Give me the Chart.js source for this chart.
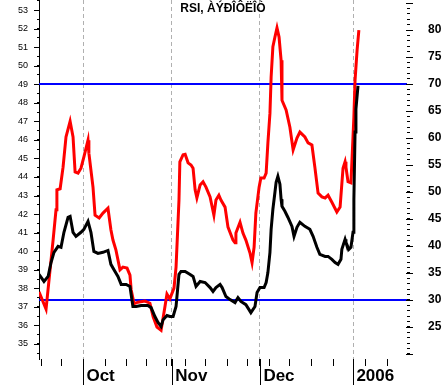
<!DOCTYPE html>
<html lang="ru">
<head>
<meta charset="UTF-8">
<title>RSI</title>
<script src="https://cdn.jsdelivr.net/npm/chart.js"></script>
<style>
    body { margin: 0; background: #ffffff; }
    canvas { display: block; }
</style>
</head>
<body>
<canvas id="rsiChart" width="445" height="385"></canvas>
<script>
// x values are days counted from 1 Sep 2005
var chartTitle = 'RSI, ÀÝÐÎÔËÎÒ';
var monthTicks = [30, 60.3, 90.3, 122];
var monthLabels = ['Oct', 'Nov', 'Dec', '2006'];
var weekTicks = [16, 22.8, 37.5, 44.7, 51.8, 58.6, 64.8, 71.9, 79.1, 86.2, 93.7, 100.5, 108, 115.2, 126.4, 133.6];
var priceLabels = [35, 36, 37, 38, 39, 40, 41, 42, 43, 44, 45, 46, 47, 48, 49, 50, 51, 52, 53];
var rsiLabels = [25, 30, 35, 40, 45, 50, 55, 60, 65, 70, 75, 80];
var rsiLevels = [70, 30];

var rsiDays = [15.0, 17.4, 19.8, 20.8, 21.1, 22.2, 23.2, 24.2, 25.6, 26.6, 27.3, 28.3, 29.3, 30.3, 31.7, 32.0,
    33.4, 34.1, 35.5, 36.8, 38.5, 39.5, 40.2, 41.2, 42.6, 43.6, 45.0, 46.0, 46.4, 47.4, 48.7, 51.1, 52.8, 53.9,
    55.2, 56.6, 57.3, 57.9, 58.6, 59.6, 61.0, 61.7, 62.7, 63.0, 64.1, 64.8, 65.8, 66.8, 67.5, 68.2, 68.8, 69.9,
    70.9, 71.9, 73.3, 74.6, 75.3, 76.3, 77.0, 78.4, 79.4, 81.1, 81.8, 82.1, 83.5, 84.5, 85.5, 86.9, 87.6, 88.3,
    88.9, 90.0, 90.6, 91.7, 92.4, 93.0, 93.7, 94.1, 94.7, 95.4, 96.1, 96.8, 97.5, 97.8, 99.2, 100.5, 101.6,
    102.9, 103.9, 105.6, 106.7, 108.0, 109.0, 110.1, 111.4, 112.5, 113.5, 114.8, 116.5, 117.6, 118.6, 119.3,
    119.6, 120.3, 121.3, 121.7, 122.3, 122.7, 123.4, 124.0];
var rsiValues = [31.5, 28.3, 41.1, 46.7, 50.4, 50.6, 54.6, 60.2, 63.1, 60.2, 53.7, 53.5, 54.4, 56.5, 59.6, 57.2,
    50.9, 45.7, 45.2, 46.1, 47.0, 43.0, 41.1, 39.3, 35.6, 36.1, 35.9, 34.6, 31.9, 29.3, 29.6, 29.8, 29.4, 26.9,
    25.0, 24.4, 26.7, 28.7, 31.1, 30.2, 32.2, 36.1, 48.5, 55.6, 56.9, 57.0, 55.4, 55.0, 54.4, 50.4, 48.9, 51.3,
    51.9, 50.9, 49.1, 45.7, 48.5, 49.4, 48.5, 47.2, 43.5, 41.1, 40.6, 42.4, 44.4, 42.4, 41.1, 38.7, 36.9, 39.8,
    46.1, 50.9, 52.6, 52.6, 53.5, 59.1, 64.6, 71.3, 76.9, 78.7, 80.4, 78.7, 74.4, 67.0, 65.2, 62.0, 57.8,
    60.0, 61.1, 60.2, 59.1, 58.7, 54.6, 49.8, 49.1, 48.9, 49.4, 48.1, 46.3, 47.2, 54.4, 55.6,
    54.6, 51.9, 51.7, 56.5, 63.9, 70.7, 76.3, 80.0];

var priceDays = [15.0, 16.7, 18.1, 19.1, 20.1, 21.5, 22.5, 23.5, 24.9, 25.6, 26.6, 27.6, 29.3, 30.3, 31.7, 32.7,
    33.7, 35.1, 36.8, 38.5, 39.5, 40.9, 41.9, 43.0, 44.7, 46.0, 47.0, 48.1, 49.8, 52.1, 53.2, 54.5, 55.6, 56.6,
    57.3, 58.6, 59.6, 60.7, 61.7, 62.7, 63.4, 64.8, 66.5, 67.5, 68.5, 69.9, 71.6, 73.3, 74.3, 75.3, 76.7, 77.4,
    78.7, 80.1, 81.8, 82.8, 83.8, 85.5, 87.2, 88.6, 89.3, 90.3, 91.7, 92.4, 93.0, 93.7, 94.1, 94.7, 95.4, 95.8,
    96.4, 97.1, 97.5, 97.8, 98.8, 99.8, 101.2, 101.9, 102.9, 103.9, 105.6, 107.3, 108.4, 109.7, 110.7, 112.5,
    113.5, 114.8, 115.9, 116.9, 117.9, 118.2, 119.3, 119.6, 120.6, 121.3, 122.0, 122.3, 122.7, 123.0, 123.7];
var priceValues = [38.75, 38.37, 38.64, 39.39, 39.94, 40.26, 40.21, 41.02, 41.83, 41.88, 41.02, 40.80, 41.02,
    41.18, 41.61, 41.02, 39.99, 39.88, 39.94, 40.04, 39.29, 38.91, 38.64, 38.21, 38.21, 38.10, 37.02, 37.02,
    37.07, 37.07, 36.96, 36.48, 36.15, 35.94, 36.31, 36.53, 36.48, 36.48, 37.02, 38.75, 38.91, 38.91, 38.75,
    38.64, 38.10, 38.37, 38.31, 38.04, 37.83, 38.04, 38.21, 38.04, 37.56, 37.39, 37.23, 37.50, 37.29, 37.12,
    36.69, 37.02, 37.77, 38.04, 38.04, 38.31, 38.85, 39.94, 41.18, 42.26, 43.18, 43.72, 44.04, 43.61, 42.80,
    42.42, 42.15, 41.83, 41.34, 40.80, 41.29, 41.56, 41.34, 41.18, 40.80, 40.21, 39.83, 39.72, 39.72, 39.56,
    39.39, 39.29, 39.56, 40.10, 40.64, 40.48, 40.10, 40.21, 41.02, 42.80, 46.42, 47.66, 48.91];

var xMin = 15, xMax = 140.4;

function toPoints(days, values) {
    return days.map(function(d, i) { return { x: d, y: values[i] }; });
}

function stepTicks(from, to, step) {
    var out = [];
    for (var v = from; v <= to + 1e-9; v += step) out.push({ value: Math.round(v * 10) / 10 });
    return out;
}

// axes keep no extra padding so the plot fills the whole height
function fixSize(width, height) {
    return function(s) {
        if (width != null) s.width = width;
        if (height != null) s.height = height;
        s.paddingTop = 0;
        s.paddingBottom = 0;
        s.paddingLeft = 0;
        s.paddingRight = 0;
    };
}

Chart.defaults.font.family = 'Arial, "Liberation Sans", sans-serif';
Chart.defaults.color = '#000';

// long month marks below the axis, longer major ticks on both y axes, and the title
var extraMarks = {
    id: 'extraMarks',
    afterDraw: function(chart) {
        var ctx = chart.ctx, area = chart.chartArea;
        var sx = chart.scales.x, yL = chart.scales.yL, yR = chart.scales.yR;
        ctx.save();
        ctx.strokeStyle = '#000';
        ctx.lineWidth = 1;
        ctx.beginPath();
        monthTicks.forEach(function(v) {
            var px = Math.round(sx.getPixelForValue(v)) + 0.5;
            ctx.moveTo(px, area.bottom);
            ctx.lineTo(px, chart.height);
        });
        priceLabels.forEach(function(v) {
            var py = Math.round(yL.getPixelForValue(v)) + 0.5;
            ctx.moveTo(area.left - 5, py);
            ctx.lineTo(area.left, py);
        });
        for (var v = 20; v <= 85; v += 5) {
            var py = Math.round(yR.getPixelForValue(v)) + 0.5;
            ctx.moveTo(area.right - 1, py);
            ctx.lineTo(area.right + 6, py);
        }
        ctx.stroke();
        ctx.font = 'bold 12px Arial, "Liberation Sans", sans-serif';
        ctx.fillStyle = '#000';
        ctx.textAlign = 'center';
        ctx.textBaseline = 'middle';
        ctx.fillText(chartTitle, (area.left + area.right) / 2, 9);
        ctx.restore();
    }
};

var datasets = rsiLevels.map(function(level) {
    return {
        label: 'RSI ' + level,
        data: [{ x: xMin, y: level }, { x: xMax, y: level }],
        yAxisID: 'yR',
        borderColor: '#0000ff',
        borderWidth: 2,
        pointRadius: 0,
        order: 3
    };
});
datasets.push({
    label: 'RSI',
    data: toPoints(rsiDays, rsiValues),
    yAxisID: 'yR',
    borderColor: '#ff0000',
    borderWidth: 3,
    pointRadius: 0,
    tension: 0,
    order: 2
});
datasets.push({
    label: 'Price',
    data: toPoints(priceDays, priceValues),
    yAxisID: 'yL',
    borderColor: '#000000',
    borderWidth: 3,
    pointRadius: 0,
    tension: 0,
    order: 1
});

new Chart(document.getElementById('rsiChart'), {
    type: 'line',
    data: { datasets: datasets },
    options: {
        responsive: false,
        animation: false,
        layout: { padding: 0, autoPadding: false },
        plugins: { legend: { display: false }, tooltip: { enabled: false } },
        scales: {
            x: {
                type: 'linear',
                min: xMin,
                max: xMax,
                afterBuildTicks: function(s) {
                    s.ticks = monthTicks.concat(weekTicks).sort(function(a, b) { return a - b; })
                        .map(function(v) { return { value: v }; });
                },
                afterFit: fixSize(null, 26),
                ticks: {
                    autoSkip: false,
                    maxRotation: 0,
                    align: 'start',
                    padding: 0,
                    color: '#000',
                    font: { size: 17, weight: 'bold' },
                    callback: function(v) {
                        var i = monthTicks.indexOf(v);
                        return i < 0 ? '' : '\u2009' + monthLabels[i];
                    }
                },
                grid: {
                    color: function(c) {
                        return c.tick && monthTicks.indexOf(c.tick.value) >= 0 ? '#b0b0b0' : 'rgba(0,0,0,0)';
                    },
                    tickColor: '#000',
                    tickLength: 7,
                    lineWidth: 1
                },
                border: { display: false, dash: [4, 3] }
            },
            yL: {
                type: 'linear',
                position: 'left',
                min: 34.19,
                max: 53.54,
                afterBuildTicks: function(s) { s.ticks = stepTicks(34.5, 53.5, 0.5); },
                afterFit: fixSize(39, null),
                ticks: {
                    autoSkip: false,
                    padding: 9,
                    color: '#000',
                    font: { size: 9 },
                    callback: function(v) { return priceLabels.indexOf(v) >= 0 ? String(v) : ''; }
                },
                grid: { drawOnChartArea: false, tickColor: '#000', tickLength: 2 },
                border: { display: true, color: '#000', width: 1 }
            },
            yR: {
                type: 'linear',
                position: 'right',
                min: 19.07,
                max: 85.56,
                afterBuildTicks: function(s) { s.ticks = stepTicks(20, 85, 1); },
                afterFit: fixSize(38, null),
                ticks: {
                    autoSkip: false,
                    padding: 18,
                    color: '#000',
                    font: { size: 12, weight: 'bold' },
                    callback: function(v) { return rsiLabels.indexOf(v) >= 0 ? String(v) : ''; }
                },
                grid: { drawOnChartArea: false, tickColor: '#000', tickLength: 3 },
                border: { display: false }
            }
        }
    },
    plugins: [extraMarks]
});
</script>
</body>
</html>
